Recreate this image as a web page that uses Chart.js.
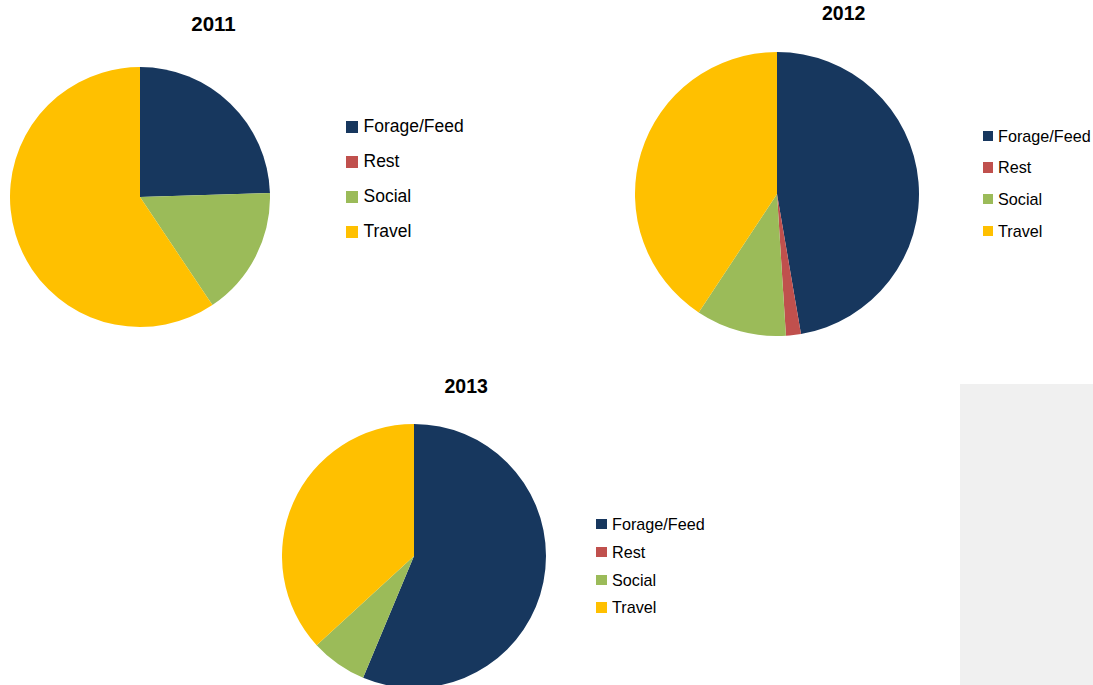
<!DOCTYPE html>
<html>
<head>
<meta charset="utf-8">
<title>Activity budget by year</title>
<script src="https://cdn.jsdelivr.net/npm/chart.js@4.4.1/dist/chart.umd.min.js"></script>
<style>
  html, body { margin: 0; padding: 0; background: #ffffff; }
  body { width: 1093px; height: 685px; position: relative; overflow: hidden;
         font-family: "Liberation Sans", Arial, sans-serif; color: #000; }
  .pie { position: absolute; }
  .title { position: absolute; font-weight: bold; line-height: 1; text-align: center; white-space: nowrap; }
  .legend { position: absolute; }
  .row { position: absolute; left: 0; display: flex; align-items: center; white-space: nowrap; }
  .row .box { flex: none; }
  .row span { line-height: 1; }
  .panel { position: absolute; left: 960px; top: 384px; width: 133px; height: 301px; background: #f0f0f0; }
</style>
</head>
<body>
<div class="panel"></div>

<script>
// Activity categories and their colours
const categories = ['Forage/Feed', 'Rest', 'Social', 'Travel'];
const colors = ['#17375E', '#C0504D', '#9BBB59', '#FFC000'];

// Share of observed time per activity (%)
const years = ['2011', '2012', '2013'];
const values2011 = [24.5, 0, 16.1, 59.4];
const values2012 = [47.3, 1.7, 10.3, 40.7];
const values2013 = [56.3, 0, 6.9, 36.8];

// Layout of each panel: pie box, title, legend
const panels = [
  { year: years[0], values: values2011,
    pie: { left: 10, top: 67, size: 260 },
    title: { cx: 213.5, cy: 24.5, size: 20.5 },
    legend: { left: 346, firstY: 127, step: 35, box: 11.5, gap: 6, font: 17.5 } },
  { year: years[1], values: values2012,
    pie: { left: 635, top: 52, size: 284 },
    title: { cx: 843.7, cy: 13.7, size: 19.5 },
    legend: { left: 982.5, firstY: 136, step: 31.6, box: 10.5, gap: 5, font: 16.2 } },
  { year: years[2], values: values2013,
    pie: { left: 282, top: 424, size: 264 },
    title: { cx: 466.2, cy: 386.7, size: 19.5 },
    legend: { left: 596, firstY: 524.2, step: 27.8, box: 10.5, gap: 5.5, font: 16.2 } }
];

panels.forEach(p => {
  // Title
  const t = document.createElement('div');
  t.className = 'title';
  t.textContent = p.year;
  t.style.fontSize = p.title.size + 'px';
  t.style.width = '100px';
  t.style.left = (p.title.cx - 50) + 'px';
  t.style.top = (p.title.cy - p.title.size / 2) + 'px';
  document.body.appendChild(t);

  // Legend built from the category list
  const lg = document.createElement('div');
  lg.className = 'legend';
  lg.style.left = p.legend.left + 'px';
  lg.style.top = '0px';
  categories.forEach((c, i) => {
    const row = document.createElement('div');
    row.className = 'row';
    const h = 24;
    row.style.height = h + 'px';
    row.style.top = (p.legend.firstY + i * p.legend.step - h / 2) + 'px';
    const b = document.createElement('div');
    b.className = 'box';
    b.style.width = p.legend.box + 'px';
    b.style.height = p.legend.box + 'px';
    b.style.background = colors[i];
    b.style.marginRight = p.legend.gap + 'px';
    const s = document.createElement('span');
    s.textContent = c;
    s.style.fontSize = p.legend.font + 'px';
    row.appendChild(b);
    row.appendChild(s);
    lg.appendChild(row);
  });
  document.body.appendChild(lg);

  // Pie
  const cv = document.createElement('canvas');
  cv.className = 'pie';
  cv.width = p.pie.size;
  cv.height = p.pie.size;
  cv.style.left = p.pie.left + 'px';
  cv.style.top = p.pie.top + 'px';
  cv.style.width = p.pie.size + 'px';
  cv.style.height = p.pie.size + 'px';
  document.body.appendChild(cv);

  new Chart(cv, {
    type: 'pie',
    data: {
      labels: categories,
      datasets: [{
        data: p.values,
        backgroundColor: colors,
        borderWidth: 0,
        hoverOffset: 0,
        offset: 0
      }]
    },
    options: {
      responsive: false,
      animation: false,
      layout: { padding: 0 },
      plugins: {
        legend: { display: false },
        title: { display: false },
        tooltip: { enabled: false }
      }
    }
  });
});
</script>
</body>
</html>
